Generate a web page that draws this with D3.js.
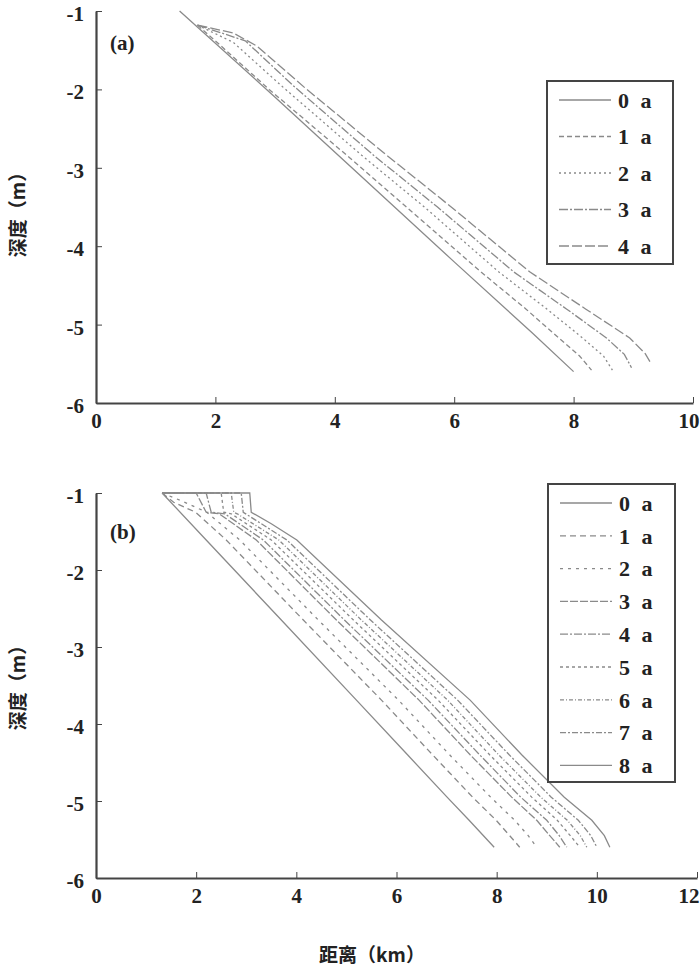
<!DOCTYPE html>
<html>
<head>
<meta charset="utf-8">
<script src="https://cdn.jsdelivr.net/npm/d3@7"></script>
<style>
  body { margin: 0; background: #fff; }
  .tick text { font-family: "Liberation Serif", serif; font-weight: bold; font-size: 21px; fill: #222; }
  .axis path, .axis line { stroke: #444; }
</style>
</head>
<body>
<script>
// profile data for panel (a): years and points [distance km, depth m]
var yearsA = ["0 a", "1 a", "2 a", "3 a", "4 a"];
var profA0 = [[1.4, -1.0], [3.0, -2.1], [4.5, -3.15], [6.0, -4.2], [7.3, -5.1], [8.0, -5.6]];
var profA1 = [[1.7, -1.18], [2.1, -1.45], [2.9, -2.0], [4.2, -2.84], [5.2, -3.5], [6.45, -4.33], [7.2, -4.8], [7.75, -5.17], [8.1, -5.4], [8.3, -5.58]];
var profA2 = [[1.7, -1.18], [2.3, -1.4], [3.1, -1.95], [4.45, -2.84], [5.5, -3.5], [6.75, -4.33], [7.55, -4.8], [8.15, -5.17], [8.5, -5.4], [8.65, -5.58]];
var profA3 = [[1.7, -1.18], [2.5, -1.38], [3.3, -1.95], [4.65, -2.84], [5.72, -3.5], [7.0, -4.33], [7.88, -4.8], [8.55, -5.17], [8.85, -5.38], [8.97, -5.55]];
var profA4 = [[1.7, -1.18], [2.3, -1.28], [2.7, -1.45], [3.5, -1.98], [4.87, -2.84], [5.95, -3.5], [7.27, -4.33], [8.2, -4.8], [8.94, -5.17], [9.2, -5.37], [9.3, -5.5]];

// profile data for panel (b)
var yearsB = ["0 a", "1 a", "2 a", "3 a", "4 a", "5 a", "6 a", "7 a", "8 a"];
var profB0 = [[1.32, -1.0], [2.2, -1.61], [3.7, -2.65], [5.2, -3.69], [6.22, -4.4], [7.01, -4.95], [7.45, -5.25], [7.95, -5.6]];
var profB1 = [[1.32, -1.0], [1.55, -1.12], [1.99, -1.25], [2.6, -1.61], [4.14, -2.65], [5.7, -3.69], [6.72, -4.4], [7.52, -4.95], [7.99, -5.25], [8.26, -5.45], [8.46, -5.6]];
var profB2 = [[1.32, -1.0], [1.7, -1.1], [2.21, -1.25], [2.87, -1.61], [4.44, -2.65], [6.04, -3.69], [7.06, -4.4], [7.88, -4.95], [8.36, -5.25], [8.63, -5.45], [8.8, -5.6]];
var profB3 = [[1.32, -1.0], [2.0, -1.0], [2.2, -1.25], [2.46, -1.27], [3.2, -1.61], [4.8, -2.65], [6.45, -3.69], [7.47, -4.4], [8.3, -4.95], [8.8, -5.25], [9.06, -5.45], [9.26, -5.6]];
var profB4 = [[1.32, -1.0], [2.2, -1.0], [2.3, -1.25], [2.57, -1.27], [3.34, -1.61], [4.96, -2.65], [6.63, -3.69], [7.66, -4.4], [8.48, -4.95], [9.0, -5.25], [9.25, -5.45], [9.4, -5.6]];
var profB5 = [[1.32, -1.0], [2.5, -1.0], [2.55, -1.25], [2.7, -1.27], [3.5, -1.61], [5.14, -2.65], [6.83, -3.69], [7.86, -4.4], [8.7, -4.95], [9.21, -5.25], [9.47, -5.45], [9.66, -5.6]];
var profB6 = [[1.32, -1.0], [2.7, -1.0], [2.75, -1.25], [2.82, -1.27], [3.65, -1.61], [5.3, -2.65], [7.02, -3.69], [8.04, -4.4], [8.88, -4.95], [9.41, -5.25], [9.67, -5.45], [9.8, -5.6]];
var profB7 = [[1.32, -1.0], [2.9, -1.0], [2.94, -1.25], [3.81, -1.61], [5.48, -2.65], [7.22, -3.69], [8.25, -4.4], [9.09, -4.95], [9.63, -5.25], [9.88, -5.45], [10.0, -5.6]];
var profB8 = [[1.32, -1.0], [3.07, -1.0], [3.1, -1.25], [3.5, -1.4], [4.01, -1.61], [5.7, -2.65], [7.47, -3.69], [8.5, -4.4], [9.35, -4.95], [9.9, -5.25], [10.15, -5.45], [10.26, -5.6]];

// tick values
var yTicks = [-1, -2, -3, -4, -5, -6];
var xTicksA = [0, 2, 4, 6, 8, 10];
var xTicksB = [0, 2, 4, 6, 8, 10, 12];

// dash patterns for each year
var dashA = ["none", "5,3", "2,3", "9,2,2,2", "10,3"];
var dashB = ["none", "6,4", "3,5", "8,2", "8,2,2,2", "3,3", "4,2,1,2", "6,2,2,2", "none"];

var svg = d3.select("body")
            .append("svg")
            .attr("width", 700)
            .attr("height", 971);

var lineColor = "#8a8a8a";

// draws one panel with its axes, lines and legend
function drawPanel(opt) {
    var xScale = d3.scaleLinear().domain(opt.xDomain).range(opt.xRange);
    var yScale = d3.scaleLinear().domain([-1, -6]).range(opt.yRange);

    var line = d3.line()
                 .x(function(d){ return xScale(d[0]); })
                 .y(function(d){ return yScale(d[1]); });

    // profile lines
    svg.append("g")
       .selectAll("path")
       .data(opt.profiles)
       .enter()
       .append("path")
       .attr("d", line)
       .attr("fill", "none")
       .attr("stroke", lineColor)
       .attr("stroke-width", 1.3)
       .attr("stroke-dasharray", function(d, i){ return opt.dash[i]; });

    // x axis, the last label is pulled in so it stays on the page
    var lastX = opt.xTicks[opt.xTicks.length - 1];
    svg.append("g")
       .attr("class", "axis")
       .attr("transform", "translate(0," + opt.yRange[1] + ")")
       .call(d3.axisBottom(xScale)
               .tickValues(opt.xTicks)
               .tickFormat(function(d){ return String(d); })
               .tickSizeInner(-6)
               .tickSizeOuter(0)
               .tickPadding(10))
       .call(function(g){
           g.select(".domain").attr("stroke-width", 2.2);
           g.selectAll(".tick text")
            .filter(function(d){ return d === lastX; })
            .attr("text-anchor", "end")
            .attr("x", 700 - xScale(lastX) - 1);
       });

    // y axis
    svg.append("g")
       .attr("class", "axis")
       .attr("transform", "translate(" + opt.xRange[0] + ",0)")
       .call(d3.axisLeft(yScale)
               .tickValues(yTicks)
               .tickFormat(function(d){ return String(d); })
               .tickSizeInner(-6)
               .tickSizeOuter(0)
               .tickPadding(12))
       .call(function(g){
           g.select(".domain").attr("stroke-width", 2.2);
           g.selectAll(".tick text").attr("dy", "0.45em");
       });

    // panel label
    svg.append("text")
       .attr("x", opt.labelPos[0])
       .attr("y", opt.labelPos[1])
       .style("font-family", "Liberation Serif, serif")
       .style("font-weight", "bold")
       .style("font-size", "21px")
       .attr("fill", "#222")
       .text(opt.label);

    // y axis title
    svg.append("text")
       .attr("text-anchor", "middle")
       .attr("transform", "translate(25," + opt.yTitle + ")rotate(-90)")
       .style("font-family", "Noto Sans CJK SC, sans-serif")
       .style("font-weight", "bold")
       .style("font-size", "19px")
       .attr("fill", "#222")
       .text("深度（m）");

    // legend box
    var lg = opt.legend;
    svg.append("rect")
       .attr("x", lg.x)
       .attr("y", lg.y)
       .attr("width", lg.w)
       .attr("height", lg.h)
       .attr("fill", "#fff")
       .attr("stroke", "#444")
       .attr("stroke-width", 2);

    var rows = svg.append("g")
                  .selectAll("g")
                  .data(opt.years)
                  .enter()
                  .append("g")
                  .attr("transform", function(d, i){
                      return "translate(0," + (lg.firstRow + i * lg.step) + ")";
                  });

    rows.append("line")
        .attr("x1", lg.x + 12)
        .attr("x2", lg.x + 64)
        .attr("stroke", lineColor)
        .attr("stroke-width", 1.3)
        .attr("stroke-dasharray", function(d, i){ return opt.dash[i]; });

    rows.append("text")
        .attr("x", lg.x + 71)
        .attr("dy", "0.35em")
        .style("font-family", "Liberation Serif, serif")
        .style("font-weight", "bold")
        .style("font-size", "22px")
        .style("letter-spacing", "3px")
        .attr("fill", "#222")
        .text(function(d){ return d; });
}

drawPanel({
    xDomain: [0, 10], xRange: [96, 693], yRange: [11, 403],
    xTicks: xTicksA,
    profiles: [profA0, profA1, profA2, profA3, profA4],
    dash: dashA, years: yearsA,
    label: "(a)", labelPos: [110, 50], yTitle: 210,
    legend: { x: 547, y: 81, w: 126, h: 183, firstRow: 100, step: 36.5 }
});

drawPanel({
    xDomain: [0, 12], xRange: [96, 697], yRange: [493, 878],
    xTicks: xTicksB,
    profiles: [profB0, profB1, profB2, profB3, profB4, profB5, profB6, profB7, profB8],
    dash: dashB, years: yearsB,
    label: "(b)", labelPos: [110, 539], yTitle: 683,
    legend: { x: 548, y: 484, w: 127, h: 298, firstRow: 503, step: 32.8 }
});

// x axis title
svg.append("text")
   .attr("x", 372)
   .attr("y", 962)
   .attr("text-anchor", "middle")
   .style("font-family", "Noto Sans CJK SC, sans-serif")
   .style("font-weight", "bold")
   .style("font-size", "19px")
   .attr("fill", "#222")
   .text("距离（km）");
</script>
</body>
</html>
